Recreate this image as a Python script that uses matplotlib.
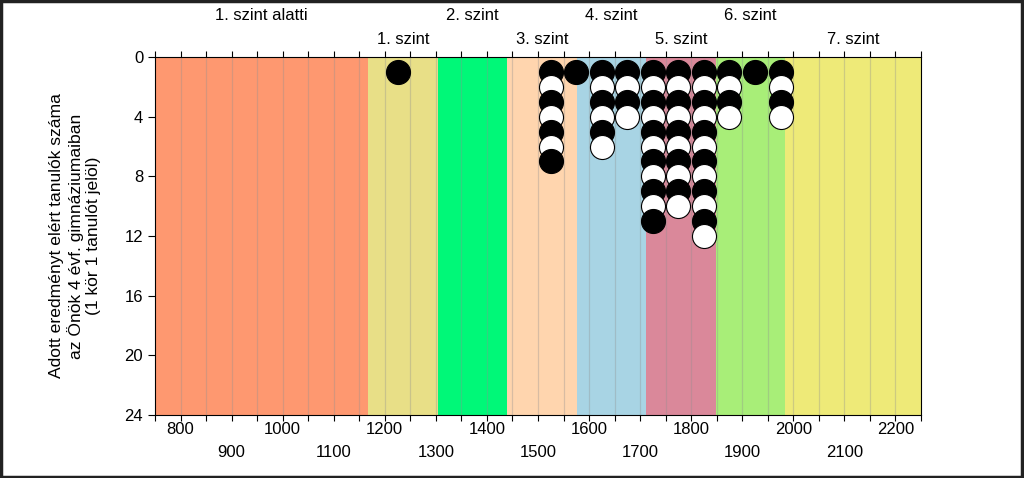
import matplotlib
matplotlib.use("Agg")
import matplotlib.pyplot as plt
from matplotlib.patches import Rectangle

plt.rcParams['font.family'] = ['Liberation Sans', 'DejaVu Sans']

# Level bands
band_edges = [750, 1168, 1304, 1440, 1576, 1712, 1848, 1984, 2250]
band_names = ["1. szint alatti", "1. szint", "2. szint", "3. szint",
              "4. szint", "5. szint", "6. szint", "7. szint"]
band_colors = ["#FE9870", "#E8DF87", "#00F878", "#FFD5AE",
               "#A8D4E4", "#DA889A", "#A8EE78", "#EEEA78"]

# Student counts per score bin (bin centers)
bin_centers = [1225, 1525, 1575, 1625, 1675, 1725, 1775, 1825, 1875, 1925, 1975]
counts = [1, 7, 1, 6, 4, 11, 10, 12, 4, 1, 4]

y_ticks = [0, 4, 8, 12, 16, 20, 24]
x_labels_row1 = [800, 1000, 1200, 1400, 1600, 1800, 2000, 2200]
x_labels_row2 = [900, 1100, 1300, 1500, 1700, 1900, 2100]

FS = 12

fig = plt.figure(figsize=(10.24, 4.78), dpi=100)
ax = fig.add_axes([155/1024, 1-415/478, (921-155)/1024, (415-57)/478])
ax.set_xlim(750, 2250)
ax.set_ylim(24, 0)

for i, name in enumerate(band_names):
    x0, x1 = band_edges[i], band_edges[i+1]
    ax.add_patch(Rectangle((x0, 0), x1-x0, 24, facecolor=band_colors[i],
                           edgecolor='none', zorder=0))
    cx = (x0 + x1) / 2
    yoff = 1.095 if i % 2 == 0 else 1.028
    ax.text(cx, yoff, name, transform=ax.get_xaxis_transform(),
            ha='center', va='bottom', fontsize=FS)

for gx in range(800, 2250, 50):
    ax.axvline(gx, color='#909090', alpha=0.35, lw=0.9, zorder=1)

for xc, n in zip(bin_centers, counts):
    for k in range(1, n+1):
        fc = 'black' if k % 2 == 1 else 'white'
        ax.plot([xc], [k], 'o', ms=17.3, mfc=fc, mec='black', mew=0.8,
                zorder=2+k)

ax.set_yticks(y_ticks)
ax.set_xticks(range(750, 2251, 50))
ax.set_xticklabels([])
ax.tick_params(axis='x', which='both', bottom=True, top=True, direction='out',
               length=4, width=0.8)
ax.tick_params(axis='y', direction='out', length=5, labelsize=FS)
for v in x_labels_row1:
    ax.text(v, -0.02, str(v), transform=ax.get_xaxis_transform(),
            ha='center', va='top', fontsize=FS)
for v in x_labels_row2:
    ax.text(v, -0.084, str(v), transform=ax.get_xaxis_transform(),
            ha='center', va='top', fontsize=FS)

ax.set_ylabel("Adott eredményt elért tanulók száma\naz Önök 4 évf. gimnáziumaiban\n(1 kör 1 tanulót jelöl)",
              fontsize=12.6, linespacing=1.2)
ax.yaxis.set_label_coords((75-155)/766, 0.5)
ax.yaxis.label.set_va('center')

for s in ax.spines.values():
    s.set_linewidth(0.8)

fig.patches.append(Rectangle((0.001, 0.002), 0.997, 0.995, transform=fig.transFigure,
                             fill=False, edgecolor='#222222', lw=2.5))

fig.savefig("out.png", dpi=100)
